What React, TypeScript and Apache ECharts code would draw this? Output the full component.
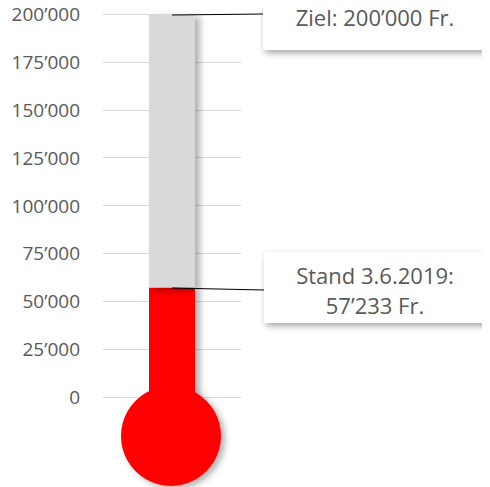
import React, { useEffect, useRef } from "react";
import * as echarts from "echarts";

const categories = ["Spenden"];
const goal = 200000;
const current = 57233;
const raisedValues = [current];
const remainingValues = [goal - current];
const tickInterval = 25000;
const goalLabel = "Ziel: 200\u2019000 Fr.";
const currentLabel = "Stand 3.6.2019:\n57\u2019233 Fr.";

const fmt = (v: number) =>
  String(Math.round(v)).replace(/\B(?=(\d{3})+(?!\d))/g, "\u2019");

export default function App() {
  const ref = useRef<HTMLDivElement>(null);
  useEffect(() => {
    if (!ref.current) return;
    const chart = echarts.init(ref.current, undefined, { renderer: "svg" });
    const font = "'Open Sans', 'Noto Sans', sans-serif";
    const textColor = "#595959";
    chart.setOption({
      animation: false,
      grid: { left: 103, top: 14, width: 138, bottom: 90 },
      xAxis: {
        type: "category",
        data: categories,
        axisLine: { show: false },
        axisTick: { show: false },
        axisLabel: { show: false },
      },
      yAxis: {
        type: "value",
        min: 0,
        max: goal,
        interval: tickInterval,
        axisLine: { show: false },
        axisTick: { show: false },
        splitLine: { lineStyle: { color: "#d9d9d9", width: 1 } },
        axisLabel: {
          formatter: (v: number) => fmt(v),
          color: textColor,
          fontSize: 19,
          fontFamily: font,
          margin: 23,
        },
      },
      series: [
        {
          type: "bar",
          stack: "t",
          data: raisedValues,
          barWidth: 46,
          itemStyle: {
            color: "#ff0000",
            shadowBlur: 6,
            shadowOffsetX: 5,
            shadowOffsetY: 3,
            shadowColor: "rgba(0,0,0,0.3)",
          },
        },
        {
          type: "bar",
          stack: "t",
          data: remainingValues,
          barWidth: 46,
          itemStyle: {
            color: "#d9d9d9",
            shadowBlur: 6,
            shadowOffsetX: 5,
            shadowOffsetY: 3,
            shadowColor: "rgba(0,0,0,0.3)",
          },
        },
      ],
      graphic: [
        {
          type: "circle",
          shape: { cx: 171, cy: 436, r: 50 },
          style: {
            fill: "#ff0000",
            shadowBlur: 6,
            shadowOffsetX: 4,
            shadowOffsetY: 3,
            shadowColor: "rgba(0,0,0,0.3)",
          },
          z: 10,
        },
        {
          type: "rect",
          shape: { x: 149, y: 380, width: 46, height: 20 },
          style: { fill: "#ff0000" },
          z: 11,
        },
        {
          type: "line",
          shape: { x1: 172, y1: 15, x2: 263, y2: 14 },
          style: { stroke: "#000", lineWidth: 1.2 },
          z: 12,
        },
        {
          type: "line",
          shape: { x1: 172, y1: 288, x2: 264, y2: 290 },
          style: { stroke: "#000", lineWidth: 1.2 },
          z: 12,
        },
        {
          type: "rect",
          shape: { x: 263, y: -10, width: 224, height: 60 },
          style: {
            fill: "#fff",
            shadowBlur: 6,
            shadowOffsetX: 2,
            shadowOffsetY: 3,
            shadowColor: "rgba(0,0,0,0.35)",
          },
          z: 13,
        },
        {
          type: "text",
          x: 375,
          y: 17,
          style: {
            text: goalLabel,
            fill: textColor,
            font: "22px " + font,
            align: "center",
            verticalAlign: "middle",
          },
          z: 14,
        },
        {
          type: "rect",
          shape: { x: 264, y: 252, width: 223, height: 71 },
          style: {
            fill: "#fff",
            shadowBlur: 6,
            shadowOffsetX: 2,
            shadowOffsetY: 3,
            shadowColor: "rgba(0,0,0,0.35)",
          },
          z: 13,
        },
        {
          type: "text",
          x: 375,
          y: 290,
          style: {
            text: currentLabel,
            fill: textColor,
            font: "22px " + font,
            align: "center",
            verticalAlign: "middle",
            lineHeight: 30,
          },
          z: 14,
        },
      ],
    });
    return () => chart.dispose();
  }, []);
  return <div ref={ref} style={{ width: 490, height: 487, marginTop: -8, marginLeft: -8 }} />;
}
